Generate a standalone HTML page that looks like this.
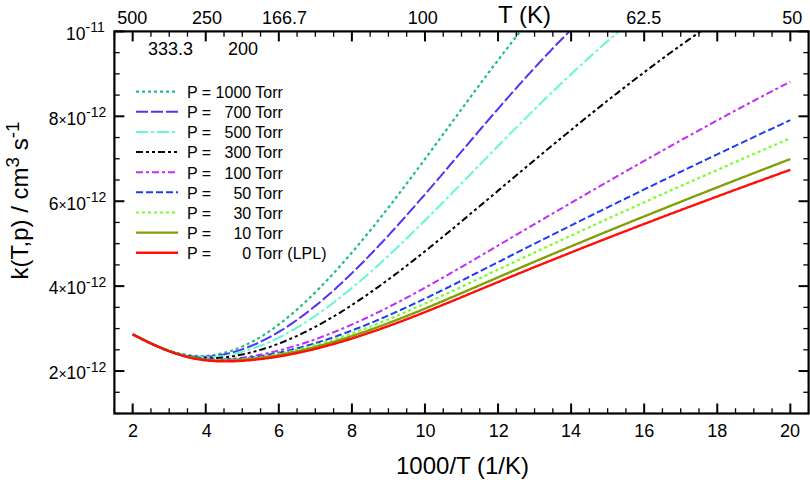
<!DOCTYPE html>
<html><head><meta charset="utf-8"><style>
html,body{margin:0;padding:0;background:#fff;}
svg{display:block;}
text{font-family:"Liberation Sans",sans-serif;fill:#000;}
.tl{font-size:18px;}
.yl{font-size:17.5px;}
.tm{font-size:14px;}
.sup{font-size:14px;}
.lg{font-size:16px;white-space:pre;}
.ax{font-size:24px;}
.sup2{font-size:18.8px;}
</style></head><body>
<svg width="810" height="480" viewBox="0 0 810 480">
<rect width="810" height="480" fill="#fff"/>
<defs><clipPath id="c"><rect x="114.4" y="31.4" width="694.2" height="382.1"/></clipPath></defs>
<g clip-path="url(#c)" fill="none" stroke-linejoin="round">
<path d="M132.7,334.3 L134.2,335.1 L135.7,335.9 L137.2,336.6 L138.7,337.4 L140.2,338.1 L141.7,338.9 L143.2,339.6 L144.7,340.4 L146.2,341.1 L147.7,341.8 L149.2,342.5 L150.7,343.2 L152.2,343.8 L153.7,344.5 L155.2,345.2 L156.7,345.8 L158.2,346.4 L159.7,347.0 L161.2,347.6 L162.7,348.2 L164.2,348.8 L165.7,349.3 L167.2,349.8 L168.7,350.4 L170.2,350.8 L171.7,351.3 L173.2,351.8 L174.7,352.2 L176.2,352.6 L177.7,353.0 L179.2,353.4 L180.7,353.7 L182.2,354.1 L183.7,354.4 L185.2,354.6 L186.7,354.9 L188.2,355.1 L189.7,355.3 L191.2,355.5 L192.7,355.6 L194.2,355.7 L195.7,355.8 L197.2,355.9 L198.7,356.0 L200.2,356.0 L201.7,356.0 L203.2,355.9 L204.7,355.9 L206.2,355.8 L207.7,355.7 L209.2,355.5 L210.7,355.4 L212.2,355.2 L213.7,355.0 L215.2,354.8 L216.7,354.5 L218.2,354.2 L219.7,353.9 L221.2,353.6 L222.7,353.3 L224.2,352.9 L225.7,352.5 L227.2,352.1 L228.7,351.6 L230.2,351.2 L231.7,350.7 L233.2,350.2 L234.7,349.6 L236.2,349.1 L237.7,348.5 L239.2,347.9 L240.7,347.3 L242.2,346.6 L243.7,346.0 L245.2,345.3 L246.7,344.6 L248.2,343.8 L249.7,343.1 L251.2,342.3 L252.7,341.5 L254.2,340.7 L255.7,339.9 L257.2,339.0 L258.7,338.1 L260.2,337.2 L261.7,336.3 L263.2,335.4 L264.7,334.4 L266.2,333.4 L267.7,332.4 L269.2,331.4 L270.7,330.4 L272.2,329.3 L273.7,328.3 L275.2,327.2 L276.7,326.1 L278.2,324.9 L279.7,323.8 L281.2,322.6 L282.7,321.5 L284.2,320.3 L285.7,319.1 L287.2,317.9 L288.7,316.6 L290.2,315.4 L291.7,314.1 L293.2,312.8 L294.7,311.5 L296.2,310.2 L297.7,308.9 L299.2,307.5 L300.7,306.2 L302.2,304.8 L303.7,303.4 L305.2,302.0 L306.7,300.6 L308.2,299.2 L309.7,297.8 L311.2,296.3 L312.7,294.9 L314.2,293.4 L315.7,291.9 L317.2,290.4 L318.7,288.9 L320.2,287.4 L321.7,285.8 L323.2,284.3 L324.7,282.7 L326.2,281.2 L327.7,279.6 L329.2,278.0 L330.7,276.4 L332.2,274.8 L333.7,273.1 L335.2,271.5 L336.7,269.8 L338.2,268.2 L339.7,266.5 L341.2,264.8 L342.7,263.1 L344.2,261.4 L345.7,259.7 L347.2,258.0 L348.7,256.3 L350.2,254.6 L351.7,252.8 L353.2,251.0 L354.7,249.3 L356.2,247.5 L357.7,245.7 L359.2,243.9 L360.7,242.1 L362.2,240.3 L363.7,238.5 L365.2,236.7 L366.7,234.8 L368.2,233.0 L369.7,231.2 L371.2,229.3 L372.7,227.4 L374.2,225.6 L375.7,223.7 L377.2,221.8 L378.7,219.9 L380.2,218.0 L381.7,216.1 L383.2,214.2 L384.7,212.3 L386.2,210.4 L387.7,208.4 L389.2,206.5 L390.7,204.6 L392.2,202.6 L393.7,200.7 L395.2,198.7 L396.7,196.7 L398.2,194.8 L399.7,192.8 L401.2,190.8 L402.7,188.9 L404.2,186.9 L405.7,184.9 L407.2,182.9 L408.7,180.9 L410.2,178.9 L411.7,176.9 L413.2,174.9 L414.7,172.9 L416.2,170.9 L417.7,168.8 L419.2,166.8 L420.7,164.8 L422.2,162.8 L423.7,160.8 L425.2,158.7 L426.7,156.7 L428.2,154.7 L429.7,152.6 L431.2,150.6 L432.7,148.5 L434.2,146.5 L435.7,144.5 L437.2,142.4 L438.7,140.4 L440.2,138.3 L441.7,136.3 L443.2,134.2 L444.7,132.2 L446.2,130.1 L447.7,128.1 L449.2,126.0 L450.7,124.0 L452.2,121.9 L453.7,119.9 L455.2,117.9 L456.7,115.8 L458.2,113.8 L459.7,111.7 L461.2,109.7 L462.7,107.6 L464.2,105.6 L465.7,103.5 L467.2,101.5 L468.7,99.5 L470.2,97.4 L471.7,95.4 L473.2,93.4 L474.7,91.3 L476.2,89.3 L477.7,87.3 L479.2,85.3 L480.7,83.2 L482.2,81.2 L483.7,79.2 L485.2,77.2 L486.7,75.2 L488.2,73.2 L489.7,71.2 L491.2,69.2 L492.7,67.2 L494.2,65.2 L495.7,63.3 L497.2,61.3 L498.7,59.3 L500.2,57.3 L501.7,55.4 L503.2,53.4 L504.7,51.5 L506.2,49.5 L507.7,47.6 L509.2,45.6 L510.7,43.7 L512.2,41.8 L513.7,39.8 L515.2,37.9 L516.7,36.0 L518.2,34.1 L519.7,32.2 L521.2,30.3 L522.7,28.4 L524.2,26.6 L525.7,24.7 L527.2,22.8 L528.7,21.0 L530.2,19.1 L531.7,17.3 L533.2,15.4 L534.7,13.6 L536.0,12.0" stroke="#1cbe84" stroke-width="2.2" stroke-dasharray="3 3"/>
<path d="M132.7,334.2 L134.2,335.0 L135.7,335.9 L137.2,336.7 L138.7,337.5 L140.2,338.3 L141.7,339.1 L143.2,339.8 L144.7,340.6 L146.2,341.4 L147.7,342.1 L149.2,342.8 L150.7,343.5 L152.2,344.2 L153.7,344.9 L155.2,345.6 L156.7,346.3 L158.2,346.9 L159.7,347.5 L161.2,348.1 L162.7,348.7 L164.2,349.3 L165.7,349.9 L167.2,350.4 L168.7,350.9 L170.2,351.4 L171.7,351.9 L173.2,352.4 L174.7,352.8 L176.2,353.2 L177.7,353.6 L179.2,354.0 L180.7,354.4 L182.2,354.7 L183.7,355.0 L185.2,355.3 L186.7,355.5 L188.2,355.8 L189.7,356.0 L191.2,356.2 L192.7,356.3 L194.2,356.5 L195.7,356.6 L197.2,356.7 L198.7,356.7 L200.2,356.8 L201.7,356.8 L203.2,356.8 L204.7,356.8 L206.2,356.7 L207.7,356.6 L209.2,356.5 L210.7,356.4 L212.2,356.3 L213.7,356.1 L215.2,355.9 L216.7,355.7 L218.2,355.5 L219.7,355.3 L221.2,355.0 L222.7,354.7 L224.2,354.4 L225.7,354.1 L227.2,353.8 L228.7,353.4 L230.2,353.0 L231.7,352.6 L233.2,352.2 L234.7,351.8 L236.2,351.3 L237.7,350.9 L239.2,350.4 L240.7,349.9 L242.2,349.4 L243.7,348.8 L245.2,348.3 L246.7,347.7 L248.2,347.1 L249.7,346.5 L251.2,345.9 L252.7,345.3 L254.2,344.6 L255.7,344.0 L257.2,343.3 L258.7,342.6 L260.2,341.9 L261.7,341.2 L263.2,340.4 L264.7,339.7 L266.2,338.9 L267.7,338.1 L269.2,337.3 L270.7,336.5 L272.2,335.7 L273.7,334.8 L275.2,334.0 L276.7,333.1 L278.2,332.2 L279.7,331.3 L281.2,330.4 L282.7,329.5 L284.2,328.5 L285.7,327.6 L287.2,326.6 L288.7,325.6 L290.2,324.6 L291.7,323.6 L293.2,322.6 L294.7,321.5 L296.2,320.5 L297.7,319.4 L299.2,318.3 L300.7,317.2 L302.2,316.1 L303.7,315.0 L305.2,313.9 L306.7,312.7 L308.2,311.6 L309.7,310.4 L311.2,309.2 L312.7,308.0 L314.2,306.8 L315.7,305.6 L317.2,304.4 L318.7,303.2 L320.2,301.9 L321.7,300.7 L323.2,299.4 L324.7,298.1 L326.2,296.8 L327.7,295.5 L329.2,294.2 L330.7,292.9 L332.2,291.6 L333.7,290.2 L335.2,288.9 L336.7,287.5 L338.2,286.1 L339.7,284.8 L341.2,283.4 L342.7,282.0 L344.2,280.6 L345.7,279.1 L347.2,277.7 L348.7,276.3 L350.2,274.8 L351.7,273.4 L353.2,271.9 L354.7,270.4 L356.2,269.0 L357.7,267.5 L359.2,266.0 L360.7,264.5 L362.2,263.0 L363.7,261.5 L365.2,259.9 L366.7,258.4 L368.2,256.9 L369.7,255.3 L371.2,253.8 L372.7,252.2 L374.2,250.6 L375.7,249.0 L377.2,247.5 L378.7,245.9 L380.2,244.3 L381.7,242.7 L383.2,241.1 L384.7,239.5 L386.2,237.8 L387.7,236.2 L389.2,234.6 L390.7,232.9 L392.2,231.3 L393.7,229.7 L395.2,228.0 L396.7,226.3 L398.2,224.7 L399.7,223.0 L401.2,221.3 L402.7,219.7 L404.2,218.0 L405.7,216.3 L407.2,214.6 L408.7,212.9 L410.2,211.2 L411.7,209.5 L413.2,207.8 L414.7,206.1 L416.2,204.4 L417.7,202.7 L419.2,200.9 L420.7,199.2 L422.2,197.5 L423.7,195.8 L425.2,194.0 L426.7,192.3 L428.2,190.6 L429.7,188.8 L431.2,187.1 L432.7,185.3 L434.2,183.6 L435.7,181.8 L437.2,180.1 L438.7,178.3 L440.2,176.6 L441.7,174.8 L443.2,173.1 L444.7,171.3 L446.2,169.5 L447.7,167.8 L449.2,166.0 L450.7,164.2 L452.2,162.5 L453.7,160.7 L455.2,159.0 L456.7,157.2 L458.2,155.4 L459.7,153.7 L461.2,151.9 L462.7,150.1 L464.2,148.4 L465.7,146.6 L467.2,144.8 L468.7,143.1 L470.2,141.3 L471.7,139.5 L473.2,137.8 L474.7,136.0 L476.2,134.3 L477.7,132.5 L479.2,130.7 L480.7,129.0 L482.2,127.2 L483.7,125.5 L485.2,123.7 L486.7,122.0 L488.2,120.2 L489.7,118.5 L491.2,116.7 L492.7,115.0 L494.2,113.3 L495.7,111.5 L497.2,109.8 L498.7,108.1 L500.2,106.4 L501.7,104.6 L503.2,102.9 L504.7,101.2 L506.2,99.5 L507.7,97.8 L509.2,96.1 L510.7,94.4 L512.2,92.7 L513.7,91.0 L515.2,89.3 L516.7,87.6 L518.2,85.9 L519.7,84.2 L521.2,82.6 L522.7,80.9 L524.2,79.2 L525.7,77.6 L527.2,75.9 L528.7,74.3 L530.2,72.6 L531.7,71.0 L533.2,69.3 L534.7,67.7 L536.2,66.1 L537.7,64.5 L539.2,62.8 L540.7,61.2 L542.2,59.6 L543.7,58.0 L545.2,56.4 L546.7,54.8 L548.2,53.2 L549.7,51.7 L551.2,50.1 L552.7,48.5 L554.2,46.9 L555.7,45.4 L557.2,43.8 L558.7,42.3 L560.2,40.7 L561.7,39.2 L563.2,37.7 L564.7,36.2 L566.2,34.6 L567.7,33.1 L569.2,31.6 L570.7,30.1 L572.2,28.7 L573.7,27.2 L575.2,25.7 L576.7,24.2 L578.2,22.8 L579.7,21.3 L581.2,19.9 L582.7,18.4 L584.2,17.0 L585.7,15.6 L586.0,15.3" stroke="#5232f8" stroke-width="2.0" stroke-dasharray="12 3"/>
<path d="M132.7,334.3 L134.2,335.1 L135.7,335.9 L137.2,336.7 L138.7,337.4 L140.2,338.2 L141.7,339.0 L143.2,339.7 L144.7,340.5 L146.2,341.2 L147.7,341.9 L149.2,342.6 L150.7,343.3 L152.2,344.0 L153.7,344.7 L155.2,345.4 L156.7,346.0 L158.2,346.7 L159.7,347.3 L161.2,347.9 L162.7,348.5 L164.2,349.1 L165.7,349.6 L167.2,350.2 L168.7,350.7 L170.2,351.2 L171.7,351.7 L173.2,352.2 L174.7,352.6 L176.2,353.0 L177.7,353.5 L179.2,353.9 L180.7,354.2 L182.2,354.6 L183.7,354.9 L185.2,355.2 L186.7,355.5 L188.2,355.8 L189.7,356.0 L191.2,356.2 L192.7,356.4 L194.2,356.6 L195.7,356.8 L197.2,356.9 L198.7,357.0 L200.2,357.1 L201.7,357.2 L203.2,357.2 L204.7,357.2 L206.2,357.2 L207.7,357.2 L209.2,357.2 L210.7,357.1 L212.2,357.0 L213.7,356.9 L215.2,356.8 L216.7,356.7 L218.2,356.5 L219.7,356.3 L221.2,356.2 L222.7,356.0 L224.2,355.7 L225.7,355.5 L227.2,355.2 L228.7,355.0 L230.2,354.7 L231.7,354.4 L233.2,354.0 L234.7,353.7 L236.2,353.3 L237.7,353.0 L239.2,352.6 L240.7,352.2 L242.2,351.8 L243.7,351.4 L245.2,350.9 L246.7,350.5 L248.2,350.0 L249.7,349.5 L251.2,349.0 L252.7,348.5 L254.2,348.0 L255.7,347.5 L257.2,346.9 L258.7,346.4 L260.2,345.8 L261.7,345.2 L263.2,344.6 L264.7,344.0 L266.2,343.4 L267.7,342.7 L269.2,342.1 L270.7,341.4 L272.2,340.7 L273.7,340.1 L275.2,339.3 L276.7,338.6 L278.2,337.9 L279.7,337.1 L281.2,336.4 L282.7,335.6 L284.2,334.8 L285.7,334.0 L287.2,333.2 L288.7,332.4 L290.2,331.6 L291.7,330.7 L293.2,329.8 L294.7,329.0 L296.2,328.1 L297.7,327.2 L299.2,326.3 L300.7,325.4 L302.2,324.4 L303.7,323.5 L305.2,322.5 L306.7,321.6 L308.2,320.6 L309.7,319.6 L311.2,318.6 L312.7,317.6 L314.2,316.6 L315.7,315.6 L317.2,314.5 L318.7,313.5 L320.2,312.4 L321.7,311.3 L323.2,310.3 L324.7,309.2 L326.2,308.1 L327.7,307.0 L329.2,305.9 L330.7,304.7 L332.2,303.6 L333.7,302.5 L335.2,301.3 L336.7,300.2 L338.2,299.0 L339.7,297.8 L341.2,296.6 L342.7,295.4 L344.2,294.2 L345.7,293.0 L347.2,291.8 L348.7,290.6 L350.2,289.4 L351.7,288.1 L353.2,286.9 L354.7,285.6 L356.2,284.4 L357.7,283.1 L359.2,281.8 L360.7,280.5 L362.2,279.3 L363.7,278.0 L365.2,276.7 L366.7,275.3 L368.2,274.0 L369.7,272.7 L371.2,271.4 L372.7,270.1 L374.2,268.7 L375.7,267.4 L377.2,266.0 L378.7,264.7 L380.2,263.3 L381.7,261.9 L383.2,260.6 L384.7,259.2 L386.2,257.8 L387.7,256.4 L389.2,255.0 L390.7,253.6 L392.2,252.2 L393.7,250.8 L395.2,249.4 L396.7,248.0 L398.2,246.5 L399.7,245.1 L401.2,243.7 L402.7,242.2 L404.2,240.8 L405.7,239.4 L407.2,237.9 L408.7,236.5 L410.2,235.0 L411.7,233.5 L413.2,232.1 L414.7,230.6 L416.2,229.1 L417.7,227.6 L419.2,226.2 L420.7,224.7 L422.2,223.2 L423.7,221.7 L425.2,220.2 L426.7,218.7 L428.2,217.2 L429.7,215.7 L431.2,214.2 L432.7,212.7 L434.2,211.2 L435.7,209.7 L437.2,208.2 L438.7,206.7 L440.2,205.2 L441.7,203.6 L443.2,202.1 L444.7,200.6 L446.2,199.1 L447.7,197.5 L449.2,196.0 L450.7,194.5 L452.2,193.0 L453.7,191.4 L455.2,189.9 L456.7,188.4 L458.2,186.8 L459.7,185.3 L461.2,183.7 L462.7,182.2 L464.2,180.7 L465.7,179.1 L467.2,177.6 L468.7,176.1 L470.2,174.5 L471.7,173.0 L473.2,171.4 L474.7,169.9 L476.2,168.3 L477.7,166.8 L479.2,165.3 L480.7,163.7 L482.2,162.2 L483.7,160.6 L485.2,159.1 L486.7,157.6 L488.2,156.0 L489.7,154.5 L491.2,153.0 L492.7,151.4 L494.2,149.9 L495.7,148.4 L497.2,146.8 L498.7,145.3 L500.2,143.8 L501.7,142.2 L503.2,140.7 L504.7,139.2 L506.2,137.7 L507.7,136.2 L509.2,134.6 L510.7,133.1 L512.2,131.6 L513.7,130.1 L515.2,128.6 L516.7,127.1 L518.2,125.6 L519.7,124.1 L521.2,122.6 L522.7,121.1 L524.2,119.6 L525.7,118.1 L527.2,116.6 L528.7,115.1 L530.2,113.6 L531.7,112.1 L533.2,110.6 L534.7,109.1 L536.2,107.7 L537.7,106.2 L539.2,104.7 L540.7,103.2 L542.2,101.8 L543.7,100.3 L545.2,98.8 L546.7,97.4 L548.2,95.9 L549.7,94.5 L551.2,93.0 L552.7,91.6 L554.2,90.1 L555.7,88.7 L557.2,87.3 L558.7,85.8 L560.2,84.4 L561.7,83.0 L563.2,81.6 L564.7,80.1 L566.2,78.7 L567.7,77.3 L569.2,75.9 L570.7,74.5 L572.2,73.1 L573.7,71.7 L575.2,70.3 L576.7,68.9 L578.2,67.5 L579.7,66.1 L581.2,64.8 L582.7,63.4 L584.2,62.0 L585.7,60.7 L587.2,59.3 L588.7,57.9 L590.2,56.6 L591.7,55.2 L593.2,53.9 L594.7,52.5 L596.2,51.2 L597.7,49.9 L599.2,48.6 L600.7,47.2 L602.2,45.9 L603.7,44.6 L605.2,43.3 L606.7,42.0 L608.2,40.7 L609.7,39.4 L611.2,38.1 L612.7,36.8 L614.2,35.6 L615.7,34.3 L617.2,33.0 L618.7,31.8 L620.2,30.5 L621.7,29.2 L623.2,28.0 L624.7,26.8 L626.2,25.5 L627.7,24.3 L629.2,23.1 L630.7,21.8 L632.2,20.6 L633.7,19.4 L635.2,18.2 L636.0,17.6" stroke="#62f8d6" stroke-width="2.0" stroke-dasharray="12 3 3 3"/>
<path d="M132.7,334.3 L134.2,335.1 L135.7,335.9 L137.2,336.7 L138.7,337.4 L140.2,338.2 L141.7,339.0 L143.2,339.8 L144.7,340.5 L146.2,341.3 L147.7,342.0 L149.2,342.7 L150.7,343.4 L152.2,344.1 L153.7,344.8 L155.2,345.5 L156.7,346.1 L158.2,346.8 L159.7,347.4 L161.2,348.0 L162.7,348.6 L164.2,349.2 L165.7,349.8 L167.2,350.4 L168.7,350.9 L170.2,351.4 L171.7,351.9 L173.2,352.4 L174.7,352.9 L176.2,353.4 L177.7,353.8 L179.2,354.2 L180.7,354.6 L182.2,355.0 L183.7,355.3 L185.2,355.7 L186.7,356.0 L188.2,356.3 L189.7,356.6 L191.2,356.8 L192.7,357.1 L194.2,357.3 L195.7,357.5 L197.2,357.6 L198.7,357.8 L200.2,357.9 L201.7,358.0 L203.2,358.1 L204.7,358.2 L206.2,358.2 L207.7,358.2 L209.2,358.2 L210.7,358.2 L212.2,358.2 L213.7,358.2 L215.2,358.1 L216.7,358.0 L218.2,358.0 L219.7,357.8 L221.2,357.7 L222.7,357.6 L224.2,357.4 L225.7,357.3 L227.2,357.1 L228.7,356.9 L230.2,356.7 L231.7,356.4 L233.2,356.2 L234.7,356.0 L236.2,355.7 L237.7,355.4 L239.2,355.1 L240.7,354.8 L242.2,354.5 L243.7,354.2 L245.2,353.9 L246.7,353.5 L248.2,353.2 L249.7,352.8 L251.2,352.4 L252.7,352.0 L254.2,351.6 L255.7,351.2 L257.2,350.8 L258.7,350.4 L260.2,349.9 L261.7,349.5 L263.2,349.0 L264.7,348.5 L266.2,348.1 L267.7,347.6 L269.2,347.1 L270.7,346.6 L272.2,346.0 L273.7,345.5 L275.2,344.9 L276.7,344.4 L278.2,343.8 L279.7,343.3 L281.2,342.7 L282.7,342.1 L284.2,341.5 L285.7,340.8 L287.2,340.2 L288.7,339.6 L290.2,338.9 L291.7,338.3 L293.2,337.6 L294.7,337.0 L296.2,336.3 L297.7,335.6 L299.2,334.9 L300.7,334.2 L302.2,333.4 L303.7,332.7 L305.2,332.0 L306.7,331.2 L308.2,330.5 L309.7,329.7 L311.2,328.9 L312.7,328.2 L314.2,327.4 L315.7,326.6 L317.2,325.8 L318.7,325.0 L320.2,324.1 L321.7,323.3 L323.2,322.5 L324.7,321.6 L326.2,320.8 L327.7,319.9 L329.2,319.0 L330.7,318.2 L332.2,317.3 L333.7,316.4 L335.2,315.5 L336.7,314.6 L338.2,313.7 L339.7,312.8 L341.2,311.8 L342.7,310.9 L344.2,310.0 L345.7,309.0 L347.2,308.1 L348.7,307.1 L350.2,306.1 L351.7,305.1 L353.2,304.2 L354.7,303.2 L356.2,302.2 L357.7,301.2 L359.2,300.2 L360.7,299.2 L362.2,298.2 L363.7,297.1 L365.2,296.1 L366.7,295.1 L368.2,294.0 L369.7,293.0 L371.2,291.9 L372.7,290.9 L374.2,289.8 L375.7,288.7 L377.2,287.7 L378.7,286.6 L380.2,285.5 L381.7,284.4 L383.2,283.3 L384.7,282.2 L386.2,281.1 L387.7,280.0 L389.2,278.9 L390.7,277.8 L392.2,276.7 L393.7,275.6 L395.2,274.4 L396.7,273.3 L398.2,272.2 L399.7,271.0 L401.2,269.9 L402.7,268.7 L404.2,267.6 L405.7,266.4 L407.2,265.3 L408.7,264.1 L410.2,262.9 L411.7,261.8 L413.2,260.6 L414.7,259.4 L416.2,258.2 L417.7,257.1 L419.2,255.9 L420.7,254.7 L422.2,253.5 L423.7,252.3 L425.2,251.1 L426.7,249.9 L428.2,248.7 L429.7,247.5 L431.2,246.3 L432.7,245.1 L434.2,243.8 L435.7,242.6 L437.2,241.4 L438.7,240.2 L440.2,239.0 L441.7,237.7 L443.2,236.5 L444.7,235.3 L446.2,234.0 L447.7,232.8 L449.2,231.6 L450.7,230.3 L452.2,229.1 L453.7,227.9 L455.2,226.6 L456.7,225.4 L458.2,224.1 L459.7,222.9 L461.2,221.6 L462.7,220.4 L464.2,219.1 L465.7,217.9 L467.2,216.6 L468.7,215.4 L470.2,214.1 L471.7,212.8 L473.2,211.6 L474.7,210.3 L476.2,209.1 L477.7,207.8 L479.2,206.6 L480.7,205.3 L482.2,204.0 L483.7,202.8 L485.2,201.5 L486.7,200.2 L488.2,199.0 L489.7,197.7 L491.2,196.5 L492.7,195.2 L494.2,193.9 L495.7,192.7 L497.2,191.4 L498.7,190.1 L500.2,188.9 L501.7,187.6 L503.2,186.4 L504.7,185.1 L506.2,183.8 L507.7,182.6 L509.2,181.3 L510.7,180.0 L512.2,178.8 L513.7,177.5 L515.2,176.3 L516.7,175.0 L518.2,173.8 L519.7,172.5 L521.2,171.2 L522.7,170.0 L524.2,168.7 L525.7,167.5 L527.2,166.2 L528.7,165.0 L530.2,163.7 L531.7,162.5 L533.2,161.2 L534.7,160.0 L536.2,158.7 L537.7,157.5 L539.2,156.2 L540.7,155.0 L542.2,153.7 L543.7,152.5 L545.2,151.3 L546.7,150.0 L548.2,148.8 L549.7,147.5 L551.2,146.3 L552.7,145.1 L554.2,143.8 L555.7,142.6 L557.2,141.3 L558.7,140.1 L560.2,138.9 L561.7,137.6 L563.2,136.4 L564.7,135.2 L566.2,134.0 L567.7,132.7 L569.2,131.5 L570.7,130.3 L572.2,129.1 L573.7,127.8 L575.2,126.6 L576.7,125.4 L578.2,124.2 L579.7,123.0 L581.2,121.7 L582.7,120.5 L584.2,119.3 L585.7,118.1 L587.2,116.9 L588.7,115.7 L590.2,114.5 L591.7,113.3 L593.2,112.1 L594.7,110.9 L596.2,109.7 L597.7,108.5 L599.2,107.3 L600.7,106.1 L602.2,104.9 L603.7,103.7 L605.2,102.5 L606.7,101.3 L608.2,100.1 L609.7,99.0 L611.2,97.8 L612.7,96.6 L614.2,95.4 L615.7,94.2 L617.2,93.1 L618.7,91.9 L620.2,90.7 L621.7,89.6 L623.2,88.4 L624.7,87.2 L626.2,86.1 L627.7,84.9 L629.2,83.7 L630.7,82.6 L632.2,81.4 L633.7,80.3 L635.2,79.1 L636.7,78.0 L638.2,76.8 L639.7,75.7 L641.2,74.6 L642.7,73.4 L644.2,72.3 L645.7,71.1 L647.2,70.0 L648.7,68.9 L650.2,67.8 L651.7,66.6 L653.2,65.5 L654.7,64.4 L656.2,63.3 L657.7,62.2 L659.2,61.0 L660.7,59.9 L662.2,58.8 L663.7,57.7 L665.2,56.6 L666.7,55.5 L668.2,54.4 L669.7,53.3 L671.2,52.2 L672.7,51.1 L674.2,50.1 L675.7,49.0 L677.2,47.9 L678.7,46.8 L680.2,45.7 L681.7,44.7 L683.2,43.6 L684.7,42.5 L686.2,41.5 L687.7,40.4 L689.2,39.3 L690.7,38.3 L692.2,37.2 L693.7,36.2 L695.2,35.1 L696.7,34.1 L698.2,33.1 L699.7,32.0 L701.2,31.0 L702.7,30.0 L704.2,28.9 L705.7,27.9 L707.2,26.9 L708.7,25.9 L710.2,24.8 L711.7,23.8 L713.2,22.8 L714.7,21.8 L716.0,20.9" stroke="#000000" stroke-width="2.0" stroke-dasharray="7 3 3 3 3 3"/>
<path d="M132.7,334.3 L134.2,335.1 L135.7,335.9 L137.2,336.7 L138.7,337.4 L140.2,338.2 L141.7,339.0 L143.2,339.7 L144.7,340.5 L146.2,341.2 L147.7,342.0 L149.2,342.7 L150.7,343.4 L152.2,344.1 L153.7,344.8 L155.2,345.5 L156.7,346.1 L158.2,346.8 L159.7,347.4 L161.2,348.1 L162.7,348.7 L164.2,349.3 L165.7,349.9 L167.2,350.4 L168.7,351.0 L170.2,351.5 L171.7,352.1 L173.2,352.6 L174.7,353.1 L176.2,353.6 L177.7,354.0 L179.2,354.5 L180.7,354.9 L182.2,355.3 L183.7,355.7 L185.2,356.1 L186.7,356.4 L188.2,356.8 L189.7,357.1 L191.2,357.4 L192.7,357.6 L194.2,357.9 L195.7,358.1 L197.2,358.3 L198.7,358.5 L200.2,358.7 L201.7,358.9 L203.2,359.0 L204.7,359.1 L206.2,359.2 L207.7,359.3 L209.2,359.4 L210.7,359.5 L212.2,359.5 L213.7,359.5 L215.2,359.6 L216.7,359.6 L218.2,359.5 L219.7,359.5 L221.2,359.5 L222.7,359.4 L224.2,359.4 L225.7,359.3 L227.2,359.2 L228.7,359.1 L230.2,359.0 L231.7,358.8 L233.2,358.7 L234.7,358.5 L236.2,358.4 L237.7,358.2 L239.2,358.0 L240.7,357.9 L242.2,357.7 L243.7,357.5 L245.2,357.2 L246.7,357.0 L248.2,356.8 L249.7,356.6 L251.2,356.3 L252.7,356.1 L254.2,355.8 L255.7,355.5 L257.2,355.3 L258.7,355.0 L260.2,354.7 L261.7,354.4 L263.2,354.1 L264.7,353.8 L266.2,353.5 L267.7,353.1 L269.2,352.8 L270.7,352.5 L272.2,352.1 L273.7,351.7 L275.2,351.4 L276.7,351.0 L278.2,350.6 L279.7,350.3 L281.2,349.9 L282.7,349.5 L284.2,349.1 L285.7,348.7 L287.2,348.2 L288.7,347.8 L290.2,347.4 L291.7,346.9 L293.2,346.5 L294.7,346.1 L296.2,345.6 L297.7,345.1 L299.2,344.7 L300.7,344.2 L302.2,343.7 L303.7,343.2 L305.2,342.7 L306.7,342.2 L308.2,341.7 L309.7,341.2 L311.2,340.7 L312.7,340.2 L314.2,339.6 L315.7,339.1 L317.2,338.6 L318.7,338.0 L320.2,337.5 L321.7,336.9 L323.2,336.3 L324.7,335.8 L326.2,335.2 L327.7,334.6 L329.2,334.0 L330.7,333.4 L332.2,332.8 L333.7,332.2 L335.2,331.6 L336.7,331.0 L338.2,330.4 L339.7,329.8 L341.2,329.2 L342.7,328.5 L344.2,327.9 L345.7,327.2 L347.2,326.6 L348.7,325.9 L350.2,325.3 L351.7,324.6 L353.2,324.0 L354.7,323.3 L356.2,322.6 L357.7,321.9 L359.2,321.3 L360.7,320.6 L362.2,319.9 L363.7,319.2 L365.2,318.5 L366.7,317.8 L368.2,317.1 L369.7,316.4 L371.2,315.6 L372.7,314.9 L374.2,314.2 L375.7,313.5 L377.2,312.7 L378.7,312.0 L380.2,311.3 L381.7,310.5 L383.2,309.8 L384.7,309.0 L386.2,308.3 L387.7,307.5 L389.2,306.8 L390.7,306.0 L392.2,305.2 L393.7,304.5 L395.2,303.7 L396.7,302.9 L398.2,302.1 L399.7,301.3 L401.2,300.6 L402.7,299.8 L404.2,299.0 L405.7,298.2 L407.2,297.4 L408.7,296.6 L410.2,295.8 L411.7,295.0 L413.2,294.2 L414.7,293.3 L416.2,292.5 L417.7,291.7 L419.2,290.9 L420.7,290.1 L422.2,289.3 L423.7,288.4 L425.2,287.6 L426.7,286.8 L428.2,285.9 L429.7,285.1 L431.2,284.3 L432.7,283.4 L434.2,282.6 L435.7,281.7 L437.2,280.9 L438.7,280.0 L440.2,279.2 L441.7,278.3 L443.2,277.5 L444.7,276.6 L446.2,275.8 L447.7,274.9 L449.2,274.1 L450.7,273.2 L452.2,272.3 L453.7,271.5 L455.2,270.6 L456.7,269.7 L458.2,268.9 L459.7,268.0 L461.2,267.1 L462.7,266.3 L464.2,265.4 L465.7,264.5 L467.2,263.7 L468.7,262.8 L470.2,261.9 L471.7,261.0 L473.2,260.1 L474.7,259.3 L476.2,258.4 L477.7,257.5 L479.2,256.6 L480.7,255.8 L482.2,254.9 L483.7,254.0 L485.2,253.1 L486.7,252.2 L488.2,251.3 L489.7,250.5 L491.2,249.6 L492.7,248.7 L494.2,247.8 L495.7,246.9 L497.2,246.1 L498.7,245.2 L500.2,244.3 L501.7,243.4 L503.2,242.5 L504.7,241.6 L506.2,240.8 L507.7,239.9 L509.2,239.0 L510.7,238.1 L512.2,237.2 L513.7,236.3 L515.2,235.5 L516.7,234.6 L518.2,233.7 L519.7,232.8 L521.2,231.9 L522.7,231.1 L524.2,230.2 L525.7,229.3 L527.2,228.4 L528.7,227.5 L530.2,226.7 L531.7,225.8 L533.2,224.9 L534.7,224.0 L536.2,223.2 L537.7,222.3 L539.2,221.4 L540.7,220.5 L542.2,219.6 L543.7,218.8 L545.2,217.9 L546.7,217.0 L548.2,216.1 L549.7,215.3 L551.2,214.4 L552.7,213.5 L554.2,212.6 L555.7,211.8 L557.2,210.9 L558.7,210.0 L560.2,209.1 L561.7,208.3 L563.2,207.4 L564.7,206.5 L566.2,205.7 L567.7,204.8 L569.2,203.9 L570.7,203.0 L572.2,202.2 L573.7,201.3 L575.2,200.4 L576.7,199.6 L578.2,198.7 L579.7,197.8 L581.2,197.0 L582.7,196.1 L584.2,195.2 L585.7,194.3 L587.2,193.5 L588.7,192.6 L590.2,191.7 L591.7,190.9 L593.2,190.0 L594.7,189.2 L596.2,188.3 L597.7,187.4 L599.2,186.6 L600.7,185.7 L602.2,184.8 L603.7,184.0 L605.2,183.1 L606.7,182.2 L608.2,181.4 L609.7,180.5 L611.2,179.7 L612.7,178.8 L614.2,178.0 L615.7,177.1 L617.2,176.2 L618.7,175.4 L620.2,174.5 L621.7,173.7 L623.2,172.8 L624.7,172.0 L626.2,171.1 L627.7,170.2 L629.2,169.4 L630.7,168.5 L632.2,167.7 L633.7,166.8 L635.2,166.0 L636.7,165.1 L638.2,164.3 L639.7,163.4 L641.2,162.6 L642.7,161.7 L644.2,160.9 L645.7,160.0 L647.2,159.2 L648.7,158.3 L650.2,157.5 L651.7,156.6 L653.2,155.8 L654.7,155.0 L656.2,154.1 L657.7,153.3 L659.2,152.4 L660.7,151.6 L662.2,150.7 L663.7,149.9 L665.2,149.1 L666.7,148.2 L668.2,147.4 L669.7,146.6 L671.2,145.7 L672.7,144.9 L674.2,144.0 L675.7,143.2 L677.2,142.4 L678.7,141.5 L680.2,140.7 L681.7,139.9 L683.2,139.0 L684.7,138.2 L686.2,137.4 L687.7,136.6 L689.2,135.7 L690.7,134.9 L692.2,134.1 L693.7,133.2 L695.2,132.4 L696.7,131.6 L698.2,130.8 L699.7,129.9 L701.2,129.1 L702.7,128.3 L704.2,127.5 L705.7,126.7 L707.2,125.8 L708.7,125.0 L710.2,124.2 L711.7,123.4 L713.2,122.6 L714.7,121.7 L716.2,120.9 L717.7,120.1 L719.2,119.3 L720.7,118.5 L722.2,117.7 L723.7,116.9 L725.2,116.1 L726.7,115.2 L728.2,114.4 L729.7,113.6 L731.2,112.8 L732.7,112.0 L734.2,111.2 L735.7,110.4 L737.2,109.6 L738.7,108.8 L740.2,108.0 L741.7,107.2 L743.2,106.4 L744.7,105.6 L746.2,104.8 L747.7,104.0 L749.2,103.2 L750.7,102.4 L752.2,101.6 L753.7,100.8 L755.2,100.0 L756.7,99.2 L758.2,98.4 L759.7,97.7 L761.2,96.9 L762.7,96.1 L764.2,95.3 L765.7,94.5 L767.2,93.7 L768.7,92.9 L770.2,92.2 L771.7,91.4 L773.2,90.6 L774.7,89.8 L776.2,89.0 L777.7,88.3 L779.2,87.5 L780.7,86.7 L782.2,85.9 L783.7,85.1 L785.2,84.4 L786.7,83.6 L788.2,82.8 L789.7,82.1 L790.3,81.7" stroke="#c02cf8" stroke-width="2.0" stroke-dasharray="7 3 3 3"/>
<path d="M132.7,334.3 L134.2,335.1 L135.7,335.9 L137.2,336.6 L138.7,337.4 L140.2,338.2 L141.7,338.9 L143.2,339.6 L144.7,340.4 L146.2,341.1 L147.7,341.8 L149.2,342.5 L150.7,343.2 L152.2,343.9 L153.7,344.6 L155.2,345.3 L156.7,345.9 L158.2,346.6 L159.7,347.2 L161.2,347.9 L162.7,348.5 L164.2,349.1 L165.7,349.7 L167.2,350.2 L168.7,350.8 L170.2,351.3 L171.7,351.9 L173.2,352.4 L174.7,352.9 L176.2,353.4 L177.7,353.8 L179.2,354.3 L180.7,354.7 L182.2,355.1 L183.7,355.5 L185.2,355.9 L186.7,356.3 L188.2,356.6 L189.7,357.0 L191.2,357.3 L192.7,357.6 L194.2,357.8 L195.7,358.1 L197.2,358.3 L198.7,358.5 L200.2,358.7 L201.7,358.9 L203.2,359.1 L204.7,359.2 L206.2,359.3 L207.7,359.5 L209.2,359.6 L210.7,359.7 L212.2,359.7 L213.7,359.8 L215.2,359.8 L216.7,359.9 L218.2,359.9 L219.7,359.9 L221.2,359.9 L222.7,359.8 L224.2,359.8 L225.7,359.8 L227.2,359.7 L228.7,359.6 L230.2,359.6 L231.7,359.5 L233.2,359.4 L234.7,359.3 L236.2,359.1 L237.7,359.0 L239.2,358.9 L240.7,358.7 L242.2,358.6 L243.7,358.4 L245.2,358.2 L246.7,358.1 L248.2,357.9 L249.7,357.7 L251.2,357.5 L252.7,357.3 L254.2,357.1 L255.7,356.9 L257.2,356.7 L258.7,356.4 L260.2,356.2 L261.7,355.9 L263.2,355.7 L264.7,355.4 L266.2,355.2 L267.7,354.9 L269.2,354.6 L270.7,354.3 L272.2,354.0 L273.7,353.7 L275.2,353.4 L276.7,353.1 L278.2,352.8 L279.7,352.5 L281.2,352.2 L282.7,351.8 L284.2,351.5 L285.7,351.1 L287.2,350.8 L288.7,350.4 L290.2,350.1 L291.7,349.7 L293.2,349.3 L294.7,348.9 L296.2,348.6 L297.7,348.2 L299.2,347.8 L300.7,347.4 L302.2,346.9 L303.7,346.5 L305.2,346.1 L306.7,345.7 L308.2,345.3 L309.7,344.8 L311.2,344.4 L312.7,343.9 L314.2,343.5 L315.7,343.0 L317.2,342.5 L318.7,342.1 L320.2,341.6 L321.7,341.1 L323.2,340.6 L324.7,340.2 L326.2,339.7 L327.7,339.2 L329.2,338.7 L330.7,338.2 L332.2,337.6 L333.7,337.1 L335.2,336.6 L336.7,336.1 L338.2,335.5 L339.7,335.0 L341.2,334.5 L342.7,333.9 L344.2,333.4 L345.7,332.8 L347.2,332.3 L348.7,331.7 L350.2,331.1 L351.7,330.6 L353.2,330.0 L354.7,329.4 L356.2,328.8 L357.7,328.2 L359.2,327.7 L360.7,327.1 L362.2,326.5 L363.7,325.9 L365.2,325.3 L366.7,324.6 L368.2,324.0 L369.7,323.4 L371.2,322.8 L372.7,322.2 L374.2,321.6 L375.7,320.9 L377.2,320.3 L378.7,319.7 L380.2,319.0 L381.7,318.4 L383.2,317.7 L384.7,317.1 L386.2,316.4 L387.7,315.8 L389.2,315.1 L390.7,314.4 L392.2,313.8 L393.7,313.1 L395.2,312.4 L396.7,311.8 L398.2,311.1 L399.7,310.4 L401.2,309.7 L402.7,309.0 L404.2,308.4 L405.7,307.7 L407.2,307.0 L408.7,306.3 L410.2,305.6 L411.7,304.9 L413.2,304.2 L414.7,303.5 L416.2,302.8 L417.7,302.1 L419.2,301.4 L420.7,300.6 L422.2,299.9 L423.7,299.2 L425.2,298.5 L426.7,297.8 L428.2,297.1 L429.7,296.3 L431.2,295.6 L432.7,294.9 L434.2,294.2 L435.7,293.4 L437.2,292.7 L438.7,292.0 L440.2,291.2 L441.7,290.5 L443.2,289.7 L444.7,289.0 L446.2,288.3 L447.7,287.5 L449.2,286.8 L450.7,286.0 L452.2,285.3 L453.7,284.5 L455.2,283.8 L456.7,283.0 L458.2,282.3 L459.7,281.5 L461.2,280.8 L462.7,280.0 L464.2,279.3 L465.7,278.5 L467.2,277.8 L468.7,277.0 L470.2,276.3 L471.7,275.5 L473.2,274.7 L474.7,274.0 L476.2,273.2 L477.7,272.5 L479.2,271.7 L480.7,270.9 L482.2,270.2 L483.7,269.4 L485.2,268.7 L486.7,267.9 L488.2,267.1 L489.7,266.4 L491.2,265.6 L492.7,264.9 L494.2,264.1 L495.7,263.3 L497.2,262.6 L498.7,261.8 L500.2,261.1 L501.7,260.3 L503.2,259.5 L504.7,258.8 L506.2,258.0 L507.7,257.3 L509.2,256.5 L510.7,255.7 L512.2,255.0 L513.7,254.2 L515.2,253.5 L516.7,252.7 L518.2,251.9 L519.7,251.2 L521.2,250.4 L522.7,249.7 L524.2,248.9 L525.7,248.2 L527.2,247.4 L528.7,246.7 L530.2,245.9 L531.7,245.1 L533.2,244.4 L534.7,243.6 L536.2,242.9 L537.7,242.1 L539.2,241.4 L540.7,240.6 L542.2,239.9 L543.7,239.1 L545.2,238.4 L546.7,237.6 L548.2,236.9 L549.7,236.1 L551.2,235.4 L552.7,234.6 L554.2,233.9 L555.7,233.1 L557.2,232.4 L558.7,231.6 L560.2,230.9 L561.7,230.1 L563.2,229.4 L564.7,228.6 L566.2,227.9 L567.7,227.1 L569.2,226.4 L570.7,225.6 L572.2,224.9 L573.7,224.1 L575.2,223.4 L576.7,222.7 L578.2,221.9 L579.7,221.2 L581.2,220.4 L582.7,219.7 L584.2,218.9 L585.7,218.2 L587.2,217.4 L588.7,216.7 L590.2,216.0 L591.7,215.2 L593.2,214.5 L594.7,213.7 L596.2,213.0 L597.7,212.2 L599.2,211.5 L600.7,210.8 L602.2,210.0 L603.7,209.3 L605.2,208.5 L606.7,207.8 L608.2,207.1 L609.7,206.3 L611.2,205.6 L612.7,204.9 L614.2,204.1 L615.7,203.4 L617.2,202.6 L618.7,201.9 L620.2,201.2 L621.7,200.4 L623.2,199.7 L624.7,199.0 L626.2,198.2 L627.7,197.5 L629.2,196.8 L630.7,196.0 L632.2,195.3 L633.7,194.6 L635.2,193.8 L636.7,193.1 L638.2,192.4 L639.7,191.6 L641.2,190.9 L642.7,190.2 L644.2,189.4 L645.7,188.7 L647.2,188.0 L648.7,187.3 L650.2,186.5 L651.7,185.8 L653.2,185.1 L654.7,184.3 L656.2,183.6 L657.7,182.9 L659.2,182.2 L660.7,181.4 L662.2,180.7 L663.7,180.0 L665.2,179.3 L666.7,178.5 L668.2,177.8 L669.7,177.1 L671.2,176.4 L672.7,175.6 L674.2,174.9 L675.7,174.2 L677.2,173.5 L678.7,172.7 L680.2,172.0 L681.7,171.3 L683.2,170.6 L684.7,169.9 L686.2,169.1 L687.7,168.4 L689.2,167.7 L690.7,167.0 L692.2,166.3 L693.7,165.5 L695.2,164.8 L696.7,164.1 L698.2,163.4 L699.7,162.7 L701.2,162.0 L702.7,161.2 L704.2,160.5 L705.7,159.8 L707.2,159.1 L708.7,158.4 L710.2,157.7 L711.7,157.0 L713.2,156.2 L714.7,155.5 L716.2,154.8 L717.7,154.1 L719.2,153.4 L720.7,152.7 L722.2,152.0 L723.7,151.3 L725.2,150.6 L726.7,149.8 L728.2,149.1 L729.7,148.4 L731.2,147.7 L732.7,147.0 L734.2,146.3 L735.7,145.6 L737.2,144.9 L738.7,144.2 L740.2,143.5 L741.7,142.8 L743.2,142.1 L744.7,141.4 L746.2,140.7 L747.7,140.0 L749.2,139.3 L750.7,138.6 L752.2,137.9 L753.7,137.1 L755.2,136.4 L756.7,135.7 L758.2,135.0 L759.7,134.3 L761.2,133.6 L762.7,132.9 L764.2,132.2 L765.7,131.5 L767.2,130.8 L768.7,130.2 L770.2,129.5 L771.7,128.8 L773.2,128.1 L774.7,127.4 L776.2,126.7 L777.7,126.0 L779.2,125.3 L780.7,124.6 L782.2,123.9 L783.7,123.2 L785.2,122.5 L786.7,121.8 L788.2,121.1 L789.7,120.4 L790.3,120.1" stroke="#1e3cf4" stroke-width="2.0" stroke-dasharray="7 3"/>
<path d="M132.7,334.3 L134.2,335.1 L135.7,335.9 L137.2,336.6 L138.7,337.4 L140.2,338.1 L141.7,338.9 L143.2,339.6 L144.7,340.4 L146.2,341.1 L147.7,341.8 L149.2,342.5 L150.7,343.2 L152.2,343.9 L153.7,344.6 L155.2,345.3 L156.7,345.9 L158.2,346.6 L159.7,347.2 L161.2,347.8 L162.7,348.5 L164.2,349.1 L165.7,349.7 L167.2,350.2 L168.7,350.8 L170.2,351.3 L171.7,351.9 L173.2,352.4 L174.7,352.9 L176.2,353.4 L177.7,353.9 L179.2,354.3 L180.7,354.8 L182.2,355.2 L183.7,355.6 L185.2,356.0 L186.7,356.4 L188.2,356.7 L189.7,357.1 L191.2,357.4 L192.7,357.7 L194.2,358.0 L195.7,358.2 L197.2,358.5 L198.7,358.7 L200.2,358.9 L201.7,359.1 L203.2,359.3 L204.7,359.4 L206.2,359.6 L207.7,359.7 L209.2,359.8 L210.7,359.9 L212.2,360.0 L213.7,360.1 L215.2,360.1 L216.7,360.2 L218.2,360.2 L219.7,360.2 L221.2,360.2 L222.7,360.2 L224.2,360.2 L225.7,360.2 L227.2,360.1 L228.7,360.1 L230.2,360.0 L231.7,359.9 L233.2,359.9 L234.7,359.8 L236.2,359.7 L237.7,359.6 L239.2,359.4 L240.7,359.3 L242.2,359.2 L243.7,359.1 L245.2,358.9 L246.7,358.8 L248.2,358.6 L249.7,358.4 L251.2,358.3 L252.7,358.1 L254.2,357.9 L255.7,357.7 L257.2,357.5 L258.7,357.3 L260.2,357.1 L261.7,356.9 L263.2,356.6 L264.7,356.4 L266.2,356.2 L267.7,355.9 L269.2,355.7 L270.7,355.4 L272.2,355.1 L273.7,354.9 L275.2,354.6 L276.7,354.3 L278.2,354.0 L279.7,353.7 L281.2,353.4 L282.7,353.1 L284.2,352.8 L285.7,352.5 L287.2,352.2 L288.7,351.8 L290.2,351.5 L291.7,351.2 L293.2,350.8 L294.7,350.5 L296.2,350.1 L297.7,349.7 L299.2,349.4 L300.7,349.0 L302.2,348.6 L303.7,348.2 L305.2,347.8 L306.7,347.4 L308.2,347.0 L309.7,346.6 L311.2,346.2 L312.7,345.8 L314.2,345.4 L315.7,345.0 L317.2,344.5 L318.7,344.1 L320.2,343.7 L321.7,343.2 L323.2,342.8 L324.7,342.3 L326.2,341.9 L327.7,341.4 L329.2,340.9 L330.7,340.5 L332.2,340.0 L333.7,339.5 L335.2,339.0 L336.7,338.5 L338.2,338.0 L339.7,337.5 L341.2,337.0 L342.7,336.5 L344.2,336.0 L345.7,335.5 L347.2,335.0 L348.7,334.5 L350.2,333.9 L351.7,333.4 L353.2,332.9 L354.7,332.3 L356.2,331.8 L357.7,331.2 L359.2,330.7 L360.7,330.1 L362.2,329.6 L363.7,329.0 L365.2,328.4 L366.7,327.9 L368.2,327.3 L369.7,326.7 L371.2,326.2 L372.7,325.6 L374.2,325.0 L375.7,324.4 L377.2,323.8 L378.7,323.2 L380.2,322.6 L381.7,322.0 L383.2,321.4 L384.7,320.8 L386.2,320.2 L387.7,319.6 L389.2,319.0 L390.7,318.4 L392.2,317.7 L393.7,317.1 L395.2,316.5 L396.7,315.9 L398.2,315.2 L399.7,314.6 L401.2,314.0 L402.7,313.3 L404.2,312.7 L405.7,312.0 L407.2,311.4 L408.7,310.7 L410.2,310.1 L411.7,309.4 L413.2,308.8 L414.7,308.1 L416.2,307.5 L417.7,306.8 L419.2,306.1 L420.7,305.5 L422.2,304.8 L423.7,304.1 L425.2,303.5 L426.7,302.8 L428.2,302.1 L429.7,301.5 L431.2,300.8 L432.7,300.1 L434.2,299.4 L435.7,298.7 L437.2,298.1 L438.7,297.4 L440.2,296.7 L441.7,296.0 L443.2,295.3 L444.7,294.6 L446.2,293.9 L447.7,293.2 L449.2,292.5 L450.7,291.8 L452.2,291.1 L453.7,290.5 L455.2,289.8 L456.7,289.1 L458.2,288.4 L459.7,287.7 L461.2,287.0 L462.7,286.3 L464.2,285.5 L465.7,284.8 L467.2,284.1 L468.7,283.4 L470.2,282.7 L471.7,282.0 L473.2,281.3 L474.7,280.6 L476.2,279.9 L477.7,279.2 L479.2,278.5 L480.7,277.8 L482.2,277.1 L483.7,276.4 L485.2,275.7 L486.7,275.0 L488.2,274.2 L489.7,273.5 L491.2,272.8 L492.7,272.1 L494.2,271.4 L495.7,270.7 L497.2,270.0 L498.7,269.3 L500.2,268.6 L501.7,267.9 L503.2,267.2 L504.7,266.5 L506.2,265.8 L507.7,265.1 L509.2,264.4 L510.7,263.6 L512.2,262.9 L513.7,262.2 L515.2,261.5 L516.7,260.8 L518.2,260.1 L519.7,259.4 L521.2,258.7 L522.7,258.0 L524.2,257.3 L525.7,256.6 L527.2,255.9 L528.7,255.2 L530.2,254.5 L531.7,253.8 L533.2,253.1 L534.7,252.4 L536.2,251.7 L537.7,251.0 L539.2,250.3 L540.7,249.6 L542.2,248.9 L543.7,248.2 L545.2,247.5 L546.7,246.9 L548.2,246.2 L549.7,245.5 L551.2,244.8 L552.7,244.1 L554.2,243.4 L555.7,242.7 L557.2,242.0 L558.7,241.3 L560.2,240.6 L561.7,239.9 L563.2,239.2 L564.7,238.5 L566.2,237.8 L567.7,237.1 L569.2,236.5 L570.7,235.8 L572.2,235.1 L573.7,234.4 L575.2,233.7 L576.7,233.0 L578.2,232.3 L579.7,231.6 L581.2,230.9 L582.7,230.3 L584.2,229.6 L585.7,228.9 L587.2,228.2 L588.7,227.5 L590.2,226.8 L591.7,226.1 L593.2,225.5 L594.7,224.8 L596.2,224.1 L597.7,223.4 L599.2,222.7 L600.7,222.0 L602.2,221.3 L603.7,220.7 L605.2,220.0 L606.7,219.3 L608.2,218.6 L609.7,217.9 L611.2,217.3 L612.7,216.6 L614.2,215.9 L615.7,215.2 L617.2,214.5 L618.7,213.9 L620.2,213.2 L621.7,212.5 L623.2,211.8 L624.7,211.1 L626.2,210.5 L627.7,209.8 L629.2,209.1 L630.7,208.4 L632.2,207.8 L633.7,207.1 L635.2,206.4 L636.7,205.7 L638.2,205.1 L639.7,204.4 L641.2,203.7 L642.7,203.0 L644.2,202.4 L645.7,201.7 L647.2,201.0 L648.7,200.3 L650.2,199.7 L651.7,199.0 L653.2,198.3 L654.7,197.6 L656.2,197.0 L657.7,196.3 L659.2,195.6 L660.7,195.0 L662.2,194.3 L663.7,193.6 L665.2,193.0 L666.7,192.3 L668.2,191.6 L669.7,190.9 L671.2,190.3 L672.7,189.6 L674.2,188.9 L675.7,188.3 L677.2,187.6 L678.7,186.9 L680.2,186.3 L681.7,185.6 L683.2,184.9 L684.7,184.3 L686.2,183.6 L687.7,182.9 L689.2,182.3 L690.7,181.6 L692.2,181.0 L693.7,180.3 L695.2,179.6 L696.7,179.0 L698.2,178.3 L699.7,177.6 L701.2,177.0 L702.7,176.3 L704.2,175.7 L705.7,175.0 L707.2,174.3 L708.7,173.7 L710.2,173.0 L711.7,172.4 L713.2,171.7 L714.7,171.0 L716.2,170.4 L717.7,169.7 L719.2,169.1 L720.7,168.4 L722.2,167.7 L723.7,167.1 L725.2,166.4 L726.7,165.8 L728.2,165.1 L729.7,164.5 L731.2,163.8 L732.7,163.1 L734.2,162.5 L735.7,161.8 L737.2,161.2 L738.7,160.5 L740.2,159.9 L741.7,159.2 L743.2,158.6 L744.7,157.9 L746.2,157.3 L747.7,156.6 L749.2,156.0 L750.7,155.3 L752.2,154.6 L753.7,154.0 L755.2,153.3 L756.7,152.7 L758.2,152.0 L759.7,151.4 L761.2,150.7 L762.7,150.1 L764.2,149.4 L765.7,148.8 L767.2,148.1 L768.7,147.5 L770.2,146.8 L771.7,146.2 L773.2,145.6 L774.7,144.9 L776.2,144.3 L777.7,143.6 L779.2,143.0 L780.7,142.3 L782.2,141.7 L783.7,141.0 L785.2,140.4 L786.7,139.7 L788.2,139.1 L789.7,138.4 L790.3,138.2" stroke="#77ff22" stroke-width="2.2" stroke-dasharray="3 3"/>
<path d="M132.7,334.3 L134.2,335.1 L135.7,335.9 L137.2,336.6 L138.7,337.4 L140.2,338.1 L141.7,338.9 L143.2,339.6 L144.7,340.3 L146.2,341.1 L147.7,341.8 L149.2,342.5 L150.7,343.2 L152.2,343.9 L153.7,344.6 L155.2,345.2 L156.7,345.9 L158.2,346.5 L159.7,347.2 L161.2,347.8 L162.7,348.4 L164.2,349.0 L165.7,349.6 L167.2,350.2 L168.7,350.8 L170.2,351.3 L171.7,351.9 L173.2,352.4 L174.7,352.9 L176.2,353.4 L177.7,353.9 L179.2,354.3 L180.7,354.8 L182.2,355.2 L183.7,355.6 L185.2,356.0 L186.7,356.4 L188.2,356.8 L189.7,357.1 L191.2,357.4 L192.7,357.7 L194.2,358.0 L195.7,358.3 L197.2,358.6 L198.7,358.8 L200.2,359.0 L201.7,359.2 L203.2,359.4 L204.7,359.6 L206.2,359.7 L207.7,359.9 L209.2,360.0 L210.7,360.1 L212.2,360.2 L213.7,360.3 L215.2,360.4 L216.7,360.4 L218.2,360.5 L219.7,360.5 L221.2,360.5 L222.7,360.5 L224.2,360.5 L225.7,360.5 L227.2,360.5 L228.7,360.5 L230.2,360.4 L231.7,360.4 L233.2,360.3 L234.7,360.2 L236.2,360.1 L237.7,360.0 L239.2,360.0 L240.7,359.8 L242.2,359.7 L243.7,359.6 L245.2,359.5 L246.7,359.4 L248.2,359.2 L249.7,359.1 L251.2,358.9 L252.7,358.8 L254.2,358.6 L255.7,358.4 L257.2,358.2 L258.7,358.1 L260.2,357.9 L261.7,357.7 L263.2,357.5 L264.7,357.3 L266.2,357.0 L267.7,356.8 L269.2,356.6 L270.7,356.4 L272.2,356.1 L273.7,355.9 L275.2,355.6 L276.7,355.4 L278.2,355.1 L279.7,354.8 L281.2,354.6 L282.7,354.3 L284.2,354.0 L285.7,353.7 L287.2,353.4 L288.7,353.1 L290.2,352.8 L291.7,352.5 L293.2,352.2 L294.7,351.9 L296.2,351.5 L297.7,351.2 L299.2,350.9 L300.7,350.5 L302.2,350.2 L303.7,349.8 L305.2,349.5 L306.7,349.1 L308.2,348.7 L309.7,348.4 L311.2,348.0 L312.7,347.6 L314.2,347.2 L315.7,346.8 L317.2,346.4 L318.7,346.0 L320.2,345.6 L321.7,345.2 L323.2,344.8 L324.7,344.4 L326.2,344.0 L327.7,343.5 L329.2,343.1 L330.7,342.7 L332.2,342.2 L333.7,341.8 L335.2,341.3 L336.7,340.9 L338.2,340.4 L339.7,340.0 L341.2,339.5 L342.7,339.0 L344.2,338.6 L345.7,338.1 L347.2,337.6 L348.7,337.1 L350.2,336.6 L351.7,336.2 L353.2,335.7 L354.7,335.2 L356.2,334.7 L357.7,334.2 L359.2,333.6 L360.7,333.1 L362.2,332.6 L363.7,332.1 L365.2,331.6 L366.7,331.1 L368.2,330.5 L369.7,330.0 L371.2,329.5 L372.7,328.9 L374.2,328.4 L375.7,327.8 L377.2,327.3 L378.7,326.7 L380.2,326.2 L381.7,325.6 L383.2,325.1 L384.7,324.5 L386.2,324.0 L387.7,323.4 L389.2,322.8 L390.7,322.2 L392.2,321.7 L393.7,321.1 L395.2,320.5 L396.7,319.9 L398.2,319.3 L399.7,318.8 L401.2,318.2 L402.7,317.6 L404.2,317.0 L405.7,316.4 L407.2,315.8 L408.7,315.2 L410.2,314.6 L411.7,314.0 L413.2,313.4 L414.7,312.8 L416.2,312.2 L417.7,311.6 L419.2,311.0 L420.7,310.3 L422.2,309.7 L423.7,309.1 L425.2,308.5 L426.7,307.9 L428.2,307.2 L429.7,306.6 L431.2,306.0 L432.7,305.4 L434.2,304.7 L435.7,304.1 L437.2,303.5 L438.7,302.8 L440.2,302.2 L441.7,301.6 L443.2,300.9 L444.7,300.3 L446.2,299.7 L447.7,299.0 L449.2,298.4 L450.7,297.7 L452.2,297.1 L453.7,296.5 L455.2,295.8 L456.7,295.2 L458.2,294.5 L459.7,293.9 L461.2,293.2 L462.7,292.6 L464.2,291.9 L465.7,291.3 L467.2,290.7 L468.7,290.0 L470.2,289.4 L471.7,288.7 L473.2,288.1 L474.7,287.4 L476.2,286.8 L477.7,286.1 L479.2,285.5 L480.7,284.8 L482.2,284.2 L483.7,283.5 L485.2,282.9 L486.7,282.2 L488.2,281.6 L489.7,280.9 L491.2,280.3 L492.7,279.6 L494.2,279.0 L495.7,278.3 L497.2,277.7 L498.7,277.0 L500.2,276.4 L501.7,275.7 L503.2,275.1 L504.7,274.4 L506.2,273.8 L507.7,273.1 L509.2,272.5 L510.7,271.9 L512.2,271.2 L513.7,270.6 L515.2,269.9 L516.7,269.3 L518.2,268.6 L519.7,268.0 L521.2,267.4 L522.7,266.7 L524.2,266.1 L525.7,265.4 L527.2,264.8 L528.7,264.2 L530.2,263.5 L531.7,262.9 L533.2,262.3 L534.7,261.6 L536.2,261.0 L537.7,260.4 L539.2,259.7 L540.7,259.1 L542.2,258.4 L543.7,257.8 L545.2,257.2 L546.7,256.6 L548.2,255.9 L549.7,255.3 L551.2,254.7 L552.7,254.0 L554.2,253.4 L555.7,252.8 L557.2,252.1 L558.7,251.5 L560.2,250.9 L561.7,250.3 L563.2,249.6 L564.7,249.0 L566.2,248.4 L567.7,247.7 L569.2,247.1 L570.7,246.5 L572.2,245.9 L573.7,245.2 L575.2,244.6 L576.7,244.0 L578.2,243.4 L579.7,242.8 L581.2,242.1 L582.7,241.5 L584.2,240.9 L585.7,240.3 L587.2,239.7 L588.7,239.0 L590.2,238.4 L591.7,237.8 L593.2,237.2 L594.7,236.6 L596.2,235.9 L597.7,235.3 L599.2,234.7 L600.7,234.1 L602.2,233.5 L603.7,232.9 L605.2,232.2 L606.7,231.6 L608.2,231.0 L609.7,230.4 L611.2,229.8 L612.7,229.2 L614.2,228.6 L615.7,227.9 L617.2,227.3 L618.7,226.7 L620.2,226.1 L621.7,225.5 L623.2,224.9 L624.7,224.3 L626.2,223.7 L627.7,223.1 L629.2,222.5 L630.7,221.8 L632.2,221.2 L633.7,220.6 L635.2,220.0 L636.7,219.4 L638.2,218.8 L639.7,218.2 L641.2,217.6 L642.7,217.0 L644.2,216.4 L645.7,215.8 L647.2,215.2 L648.7,214.6 L650.2,214.0 L651.7,213.4 L653.2,212.8 L654.7,212.2 L656.2,211.6 L657.7,211.0 L659.2,210.4 L660.7,209.8 L662.2,209.2 L663.7,208.6 L665.2,208.0 L666.7,207.4 L668.2,206.8 L669.7,206.2 L671.2,205.6 L672.7,205.0 L674.2,204.4 L675.7,203.8 L677.2,203.2 L678.7,202.6 L680.2,202.0 L681.7,201.4 L683.2,200.8 L684.7,200.2 L686.2,199.6 L687.7,199.0 L689.2,198.4 L690.7,197.8 L692.2,197.2 L693.7,196.6 L695.2,196.0 L696.7,195.4 L698.2,194.9 L699.7,194.3 L701.2,193.7 L702.7,193.1 L704.2,192.5 L705.7,191.9 L707.2,191.3 L708.7,190.7 L710.2,190.1 L711.7,189.5 L713.2,188.9 L714.7,188.4 L716.2,187.8 L717.7,187.2 L719.2,186.6 L720.7,186.0 L722.2,185.4 L723.7,184.8 L725.2,184.2 L726.7,183.7 L728.2,183.1 L729.7,182.5 L731.2,181.9 L732.7,181.3 L734.2,180.7 L735.7,180.1 L737.2,179.6 L738.7,179.0 L740.2,178.4 L741.7,177.8 L743.2,177.2 L744.7,176.6 L746.2,176.1 L747.7,175.5 L749.2,174.9 L750.7,174.3 L752.2,173.7 L753.7,173.1 L755.2,172.6 L756.7,172.0 L758.2,171.4 L759.7,170.8 L761.2,170.2 L762.7,169.7 L764.2,169.1 L765.7,168.5 L767.2,167.9 L768.7,167.3 L770.2,166.8 L771.7,166.2 L773.2,165.6 L774.7,165.0 L776.2,164.5 L777.7,163.9 L779.2,163.3 L780.7,162.7 L782.2,162.2 L783.7,161.6 L785.2,161.0 L786.7,160.4 L788.2,159.9 L789.7,159.3 L790.3,159.0" stroke="#80a008" stroke-width="2.4"/>
<path d="M132.7,334.3 L134.2,335.1 L135.7,335.9 L137.2,336.6 L138.7,337.4 L140.2,338.2 L141.7,338.9 L143.2,339.7 L144.7,340.4 L146.2,341.2 L147.7,341.9 L149.2,342.6 L150.7,343.3 L152.2,344.0 L153.7,344.7 L155.2,345.4 L156.7,346.1 L158.2,346.7 L159.7,347.4 L161.2,348.0 L162.7,348.7 L164.2,349.3 L165.7,349.9 L167.2,350.5 L168.7,351.1 L170.2,351.6 L171.7,352.2 L173.2,352.7 L174.7,353.2 L176.2,353.8 L177.7,354.2 L179.2,354.7 L180.7,355.2 L182.2,355.6 L183.7,356.1 L185.2,356.5 L186.7,356.9 L188.2,357.2 L189.7,357.6 L191.2,357.9 L192.7,358.3 L194.2,358.6 L195.7,358.8 L197.2,359.1 L198.7,359.4 L200.2,359.6 L201.7,359.8 L203.2,360.0 L204.7,360.2 L206.2,360.4 L207.7,360.5 L209.2,360.7 L210.7,360.8 L212.2,360.9 L213.7,361.0 L215.2,361.1 L216.7,361.2 L218.2,361.2 L219.7,361.3 L221.2,361.3 L222.7,361.3 L224.2,361.4 L225.7,361.4 L227.2,361.4 L228.7,361.3 L230.2,361.3 L231.7,361.3 L233.2,361.2 L234.7,361.2 L236.2,361.1 L237.7,361.0 L239.2,361.0 L240.7,360.9 L242.2,360.8 L243.7,360.7 L245.2,360.6 L246.7,360.4 L248.2,360.3 L249.7,360.2 L251.2,360.1 L252.7,359.9 L254.2,359.8 L255.7,359.6 L257.2,359.4 L258.7,359.3 L260.2,359.1 L261.7,358.9 L263.2,358.7 L264.7,358.6 L266.2,358.4 L267.7,358.2 L269.2,357.9 L270.7,357.7 L272.2,357.5 L273.7,357.3 L275.2,357.1 L276.7,356.8 L278.2,356.6 L279.7,356.3 L281.2,356.1 L282.7,355.8 L284.2,355.5 L285.7,355.3 L287.2,355.0 L288.7,354.7 L290.2,354.4 L291.7,354.1 L293.2,353.8 L294.7,353.5 L296.2,353.2 L297.7,352.9 L299.2,352.6 L300.7,352.3 L302.2,351.9 L303.7,351.6 L305.2,351.3 L306.7,350.9 L308.2,350.6 L309.7,350.2 L311.2,349.9 L312.7,349.5 L314.2,349.1 L315.7,348.8 L317.2,348.4 L318.7,348.0 L320.2,347.6 L321.7,347.2 L323.2,346.8 L324.7,346.4 L326.2,346.0 L327.7,345.6 L329.2,345.2 L330.7,344.8 L332.2,344.4 L333.7,344.0 L335.2,343.5 L336.7,343.1 L338.2,342.7 L339.7,342.2 L341.2,341.8 L342.7,341.3 L344.2,340.9 L345.7,340.4 L347.2,340.0 L348.7,339.5 L350.2,339.0 L351.7,338.6 L353.2,338.1 L354.7,337.6 L356.2,337.1 L357.7,336.7 L359.2,336.2 L360.7,335.7 L362.2,335.2 L363.7,334.7 L365.2,334.2 L366.7,333.7 L368.2,333.2 L369.7,332.7 L371.2,332.2 L372.7,331.6 L374.2,331.1 L375.7,330.6 L377.2,330.1 L378.7,329.6 L380.2,329.0 L381.7,328.5 L383.2,328.0 L384.7,327.4 L386.2,326.9 L387.7,326.3 L389.2,325.8 L390.7,325.2 L392.2,324.7 L393.7,324.1 L395.2,323.6 L396.7,323.0 L398.2,322.5 L399.7,321.9 L401.2,321.3 L402.7,320.8 L404.2,320.2 L405.7,319.6 L407.2,319.0 L408.7,318.5 L410.2,317.9 L411.7,317.3 L413.2,316.7 L414.7,316.1 L416.2,315.6 L417.7,315.0 L419.2,314.4 L420.7,313.8 L422.2,313.2 L423.7,312.6 L425.2,312.0 L426.7,311.4 L428.2,310.8 L429.7,310.2 L431.2,309.6 L432.7,309.0 L434.2,308.4 L435.7,307.8 L437.2,307.2 L438.7,306.6 L440.2,306.0 L441.7,305.4 L443.2,304.7 L444.7,304.1 L446.2,303.5 L447.7,302.9 L449.2,302.3 L450.7,301.7 L452.2,301.1 L453.7,300.4 L455.2,299.8 L456.7,299.2 L458.2,298.6 L459.7,298.0 L461.2,297.3 L462.7,296.7 L464.2,296.1 L465.7,295.5 L467.2,294.9 L468.7,294.2 L470.2,293.6 L471.7,293.0 L473.2,292.4 L474.7,291.7 L476.2,291.1 L477.7,290.5 L479.2,289.9 L480.7,289.2 L482.2,288.6 L483.7,288.0 L485.2,287.4 L486.7,286.7 L488.2,286.1 L489.7,285.5 L491.2,284.9 L492.7,284.3 L494.2,283.6 L495.7,283.0 L497.2,282.4 L498.7,281.8 L500.2,281.1 L501.7,280.5 L503.2,279.9 L504.7,279.3 L506.2,278.7 L507.7,278.0 L509.2,277.4 L510.7,276.8 L512.2,276.2 L513.7,275.6 L515.2,275.0 L516.7,274.4 L518.2,273.7 L519.7,273.1 L521.2,272.5 L522.7,271.9 L524.2,271.3 L525.7,270.7 L527.2,270.1 L528.7,269.5 L530.2,268.8 L531.7,268.2 L533.2,267.6 L534.7,267.0 L536.2,266.4 L537.7,265.8 L539.2,265.2 L540.7,264.6 L542.2,264.0 L543.7,263.4 L545.2,262.8 L546.7,262.2 L548.2,261.6 L549.7,261.0 L551.2,260.4 L552.7,259.8 L554.2,259.2 L555.7,258.6 L557.2,258.0 L558.7,257.4 L560.2,256.8 L561.7,256.2 L563.2,255.6 L564.7,255.0 L566.2,254.4 L567.7,253.8 L569.2,253.2 L570.7,252.6 L572.2,252.0 L573.7,251.4 L575.2,250.8 L576.7,250.2 L578.2,249.6 L579.7,249.0 L581.2,248.4 L582.7,247.8 L584.2,247.2 L585.7,246.6 L587.2,246.0 L588.7,245.5 L590.2,244.9 L591.7,244.3 L593.2,243.7 L594.7,243.1 L596.2,242.5 L597.7,241.9 L599.2,241.3 L600.7,240.7 L602.2,240.2 L603.7,239.6 L605.2,239.0 L606.7,238.4 L608.2,237.8 L609.7,237.2 L611.2,236.6 L612.7,236.1 L614.2,235.5 L615.7,234.9 L617.2,234.3 L618.7,233.7 L620.2,233.2 L621.7,232.6 L623.2,232.0 L624.7,231.4 L626.2,230.8 L627.7,230.3 L629.2,229.7 L630.7,229.1 L632.2,228.5 L633.7,227.9 L635.2,227.4 L636.7,226.8 L638.2,226.2 L639.7,225.6 L641.2,225.1 L642.7,224.5 L644.2,223.9 L645.7,223.3 L647.2,222.8 L648.7,222.2 L650.2,221.6 L651.7,221.1 L653.2,220.5 L654.7,219.9 L656.2,219.3 L657.7,218.8 L659.2,218.2 L660.7,217.6 L662.2,217.1 L663.7,216.5 L665.2,215.9 L666.7,215.4 L668.2,214.8 L669.7,214.2 L671.2,213.7 L672.7,213.1 L674.2,212.5 L675.7,212.0 L677.2,211.4 L678.7,210.8 L680.2,210.3 L681.7,209.7 L683.2,209.1 L684.7,208.6 L686.2,208.0 L687.7,207.4 L689.2,206.9 L690.7,206.3 L692.2,205.8 L693.7,205.2 L695.2,204.6 L696.7,204.1 L698.2,203.5 L699.7,203.0 L701.2,202.4 L702.7,201.8 L704.2,201.3 L705.7,200.7 L707.2,200.2 L708.7,199.6 L710.2,199.1 L711.7,198.5 L713.2,197.9 L714.7,197.4 L716.2,196.8 L717.7,196.3 L719.2,195.7 L720.7,195.2 L722.2,194.6 L723.7,194.1 L725.2,193.5 L726.7,192.9 L728.2,192.4 L729.7,191.8 L731.2,191.3 L732.7,190.7 L734.2,190.2 L735.7,189.6 L737.2,189.1 L738.7,188.5 L740.2,188.0 L741.7,187.4 L743.2,186.9 L744.7,186.3 L746.2,185.8 L747.7,185.2 L749.2,184.7 L750.7,184.1 L752.2,183.6 L753.7,183.0 L755.2,182.5 L756.7,182.0 L758.2,181.4 L759.7,180.9 L761.2,180.3 L762.7,179.8 L764.2,179.2 L765.7,178.7 L767.2,178.1 L768.7,177.6 L770.2,177.0 L771.7,176.5 L773.2,176.0 L774.7,175.4 L776.2,174.9 L777.7,174.3 L779.2,173.8 L780.7,173.2 L782.2,172.7 L783.7,172.2 L785.2,171.6 L786.7,171.1 L788.2,170.5 L789.7,170.0 L790.3,169.8" stroke="#ff0e0a" stroke-width="2.4"/>
</g>
<line x1="136" y1="91.6" x2="178" y2="91.6" stroke="#1cbe84" stroke-width="2.2" stroke-dasharray="3 3"/>
<text x="187" y="98.0" class="lg">P = 1000 Torr</text>
<line x1="136" y1="111.8" x2="178" y2="111.8" stroke="#5232f8" stroke-width="2.0" stroke-dasharray="12 3"/>
<text x="187" y="118.2" class="lg">P =   700 Torr</text>
<line x1="136" y1="131.9" x2="178" y2="131.9" stroke="#62f8d6" stroke-width="2.0" stroke-dasharray="12 3 3 3"/>
<text x="187" y="138.3" class="lg">P =   500 Torr</text>
<line x1="136" y1="152.0" x2="178" y2="152.0" stroke="#000000" stroke-width="2.0" stroke-dasharray="7 3 3 3 3 3"/>
<text x="187" y="158.4" class="lg">P =   300 Torr</text>
<line x1="136" y1="172.2" x2="178" y2="172.2" stroke="#c02cf8" stroke-width="2.0" stroke-dasharray="7 3 3 3"/>
<text x="187" y="178.6" class="lg">P =   100 Torr</text>
<line x1="136" y1="192.3" x2="178" y2="192.3" stroke="#1e3cf4" stroke-width="2.0" stroke-dasharray="7 3"/>
<text x="187" y="198.8" class="lg">P =     50 Torr</text>
<line x1="136" y1="212.5" x2="178" y2="212.5" stroke="#77ff22" stroke-width="2.2" stroke-dasharray="3 3"/>
<text x="187" y="218.9" class="lg">P =     30 Torr</text>
<line x1="136" y1="232.6" x2="178" y2="232.6" stroke="#80a008" stroke-width="2.4"/>
<text x="187" y="239.0" class="lg">P =     10 Torr</text>
<line x1="136" y1="252.8" x2="178" y2="252.8" stroke="#ff0e0a" stroke-width="2.4"/>
<text x="187" y="259.2" class="lg">P =       0 Torr (LPL)</text>
<rect x="114.4" y="31.4" width="694.2" height="382.1" fill="none" stroke="#000" stroke-width="2.2"/>
<g stroke="#000"><line x1="114.40" y1="413.5" x2="114.40" y2="408.2" stroke-width="1.3"/><line x1="114.40" y1="31.4" x2="114.40" y2="36.699999999999996" stroke-width="1.3"/><line x1="132.67" y1="413.5" x2="132.67" y2="403.5" stroke-width="2.0"/><line x1="132.67" y1="31.4" x2="132.67" y2="41.4" stroke-width="2.0"/><line x1="150.94" y1="413.5" x2="150.94" y2="408.2" stroke-width="1.3"/><line x1="150.94" y1="31.4" x2="150.94" y2="36.699999999999996" stroke-width="1.3"/><line x1="169.21" y1="413.5" x2="169.21" y2="408.2" stroke-width="1.3"/><line x1="169.21" y1="31.4" x2="169.21" y2="36.699999999999996" stroke-width="1.3"/><line x1="187.47" y1="413.5" x2="187.47" y2="408.2" stroke-width="1.3"/><line x1="187.47" y1="31.4" x2="187.47" y2="36.699999999999996" stroke-width="1.3"/><line x1="205.74" y1="413.5" x2="205.74" y2="403.5" stroke-width="2.0"/><line x1="205.74" y1="31.4" x2="205.74" y2="41.4" stroke-width="2.0"/><line x1="224.01" y1="413.5" x2="224.01" y2="408.2" stroke-width="1.3"/><line x1="224.01" y1="31.4" x2="224.01" y2="36.699999999999996" stroke-width="1.3"/><line x1="242.28" y1="413.5" x2="242.28" y2="408.2" stroke-width="1.3"/><line x1="242.28" y1="31.4" x2="242.28" y2="36.699999999999996" stroke-width="1.3"/><line x1="260.55" y1="413.5" x2="260.55" y2="408.2" stroke-width="1.3"/><line x1="260.55" y1="31.4" x2="260.55" y2="36.699999999999996" stroke-width="1.3"/><line x1="278.82" y1="413.5" x2="278.82" y2="403.5" stroke-width="2.0"/><line x1="278.82" y1="31.4" x2="278.82" y2="41.4" stroke-width="2.0"/><line x1="297.08" y1="413.5" x2="297.08" y2="408.2" stroke-width="1.3"/><line x1="297.08" y1="31.4" x2="297.08" y2="36.699999999999996" stroke-width="1.3"/><line x1="315.35" y1="413.5" x2="315.35" y2="408.2" stroke-width="1.3"/><line x1="315.35" y1="31.4" x2="315.35" y2="36.699999999999996" stroke-width="1.3"/><line x1="333.62" y1="413.5" x2="333.62" y2="408.2" stroke-width="1.3"/><line x1="333.62" y1="31.4" x2="333.62" y2="36.699999999999996" stroke-width="1.3"/><line x1="351.89" y1="413.5" x2="351.89" y2="403.5" stroke-width="2.0"/><line x1="351.89" y1="31.4" x2="351.89" y2="41.4" stroke-width="2.0"/><line x1="370.16" y1="413.5" x2="370.16" y2="408.2" stroke-width="1.3"/><line x1="370.16" y1="31.4" x2="370.16" y2="36.699999999999996" stroke-width="1.3"/><line x1="388.43" y1="413.5" x2="388.43" y2="408.2" stroke-width="1.3"/><line x1="388.43" y1="31.4" x2="388.43" y2="36.699999999999996" stroke-width="1.3"/><line x1="406.69" y1="413.5" x2="406.69" y2="408.2" stroke-width="1.3"/><line x1="406.69" y1="31.4" x2="406.69" y2="36.699999999999996" stroke-width="1.3"/><line x1="424.96" y1="413.5" x2="424.96" y2="403.5" stroke-width="2.0"/><line x1="424.96" y1="31.4" x2="424.96" y2="41.4" stroke-width="2.0"/><line x1="443.23" y1="413.5" x2="443.23" y2="408.2" stroke-width="1.3"/><line x1="443.23" y1="31.4" x2="443.23" y2="36.699999999999996" stroke-width="1.3"/><line x1="461.50" y1="413.5" x2="461.50" y2="408.2" stroke-width="1.3"/><line x1="461.50" y1="31.4" x2="461.50" y2="36.699999999999996" stroke-width="1.3"/><line x1="479.77" y1="413.5" x2="479.77" y2="408.2" stroke-width="1.3"/><line x1="479.77" y1="31.4" x2="479.77" y2="36.699999999999996" stroke-width="1.3"/><line x1="498.04" y1="413.5" x2="498.04" y2="403.5" stroke-width="2.0"/><line x1="498.04" y1="31.4" x2="498.04" y2="41.4" stroke-width="2.0"/><line x1="516.31" y1="413.5" x2="516.31" y2="408.2" stroke-width="1.3"/><line x1="516.31" y1="31.4" x2="516.31" y2="36.699999999999996" stroke-width="1.3"/><line x1="534.57" y1="413.5" x2="534.57" y2="408.2" stroke-width="1.3"/><line x1="534.57" y1="31.4" x2="534.57" y2="36.699999999999996" stroke-width="1.3"/><line x1="552.84" y1="413.5" x2="552.84" y2="408.2" stroke-width="1.3"/><line x1="552.84" y1="31.4" x2="552.84" y2="36.699999999999996" stroke-width="1.3"/><line x1="571.11" y1="413.5" x2="571.11" y2="403.5" stroke-width="2.0"/><line x1="571.11" y1="31.4" x2="571.11" y2="41.4" stroke-width="2.0"/><line x1="589.38" y1="413.5" x2="589.38" y2="408.2" stroke-width="1.3"/><line x1="589.38" y1="31.4" x2="589.38" y2="36.699999999999996" stroke-width="1.3"/><line x1="607.65" y1="413.5" x2="607.65" y2="408.2" stroke-width="1.3"/><line x1="607.65" y1="31.4" x2="607.65" y2="36.699999999999996" stroke-width="1.3"/><line x1="625.92" y1="413.5" x2="625.92" y2="408.2" stroke-width="1.3"/><line x1="625.92" y1="31.4" x2="625.92" y2="36.699999999999996" stroke-width="1.3"/><line x1="644.18" y1="413.5" x2="644.18" y2="403.5" stroke-width="2.0"/><line x1="644.18" y1="31.4" x2="644.18" y2="41.4" stroke-width="2.0"/><line x1="662.45" y1="413.5" x2="662.45" y2="408.2" stroke-width="1.3"/><line x1="662.45" y1="31.4" x2="662.45" y2="36.699999999999996" stroke-width="1.3"/><line x1="680.72" y1="413.5" x2="680.72" y2="408.2" stroke-width="1.3"/><line x1="680.72" y1="31.4" x2="680.72" y2="36.699999999999996" stroke-width="1.3"/><line x1="698.99" y1="413.5" x2="698.99" y2="408.2" stroke-width="1.3"/><line x1="698.99" y1="31.4" x2="698.99" y2="36.699999999999996" stroke-width="1.3"/><line x1="717.26" y1="413.5" x2="717.26" y2="403.5" stroke-width="2.0"/><line x1="717.26" y1="31.4" x2="717.26" y2="41.4" stroke-width="2.0"/><line x1="735.53" y1="413.5" x2="735.53" y2="408.2" stroke-width="1.3"/><line x1="735.53" y1="31.4" x2="735.53" y2="36.699999999999996" stroke-width="1.3"/><line x1="753.79" y1="413.5" x2="753.79" y2="408.2" stroke-width="1.3"/><line x1="753.79" y1="31.4" x2="753.79" y2="36.699999999999996" stroke-width="1.3"/><line x1="772.06" y1="413.5" x2="772.06" y2="408.2" stroke-width="1.3"/><line x1="772.06" y1="31.4" x2="772.06" y2="36.699999999999996" stroke-width="1.3"/><line x1="790.33" y1="413.5" x2="790.33" y2="403.5" stroke-width="2.0"/><line x1="790.33" y1="31.4" x2="790.33" y2="41.4" stroke-width="2.0"/><line x1="114.4" y1="413.50" x2="119.7" y2="413.50" stroke-width="1.3"/><line x1="808.6" y1="413.50" x2="803.3000000000001" y2="413.50" stroke-width="1.3"/><line x1="114.4" y1="392.27" x2="119.7" y2="392.27" stroke-width="1.3"/><line x1="808.6" y1="392.27" x2="803.3000000000001" y2="392.27" stroke-width="1.3"/><line x1="114.4" y1="371.04" x2="124.4" y2="371.04" stroke-width="2.0"/><line x1="808.6" y1="371.04" x2="798.6" y2="371.04" stroke-width="2.0"/><line x1="114.4" y1="349.82" x2="119.7" y2="349.82" stroke-width="1.3"/><line x1="808.6" y1="349.82" x2="803.3000000000001" y2="349.82" stroke-width="1.3"/><line x1="114.4" y1="328.59" x2="119.7" y2="328.59" stroke-width="1.3"/><line x1="808.6" y1="328.59" x2="803.3000000000001" y2="328.59" stroke-width="1.3"/><line x1="114.4" y1="307.36" x2="119.7" y2="307.36" stroke-width="1.3"/><line x1="808.6" y1="307.36" x2="803.3000000000001" y2="307.36" stroke-width="1.3"/><line x1="114.4" y1="286.13" x2="124.4" y2="286.13" stroke-width="2.0"/><line x1="808.6" y1="286.13" x2="798.6" y2="286.13" stroke-width="2.0"/><line x1="114.4" y1="264.91" x2="119.7" y2="264.91" stroke-width="1.3"/><line x1="808.6" y1="264.91" x2="803.3000000000001" y2="264.91" stroke-width="1.3"/><line x1="114.4" y1="243.68" x2="119.7" y2="243.68" stroke-width="1.3"/><line x1="808.6" y1="243.68" x2="803.3000000000001" y2="243.68" stroke-width="1.3"/><line x1="114.4" y1="222.45" x2="119.7" y2="222.45" stroke-width="1.3"/><line x1="808.6" y1="222.45" x2="803.3000000000001" y2="222.45" stroke-width="1.3"/><line x1="114.4" y1="201.22" x2="124.4" y2="201.22" stroke-width="2.0"/><line x1="808.6" y1="201.22" x2="798.6" y2="201.22" stroke-width="2.0"/><line x1="114.4" y1="179.99" x2="119.7" y2="179.99" stroke-width="1.3"/><line x1="808.6" y1="179.99" x2="803.3000000000001" y2="179.99" stroke-width="1.3"/><line x1="114.4" y1="158.77" x2="119.7" y2="158.77" stroke-width="1.3"/><line x1="808.6" y1="158.77" x2="803.3000000000001" y2="158.77" stroke-width="1.3"/><line x1="114.4" y1="137.54" x2="119.7" y2="137.54" stroke-width="1.3"/><line x1="808.6" y1="137.54" x2="803.3000000000001" y2="137.54" stroke-width="1.3"/><line x1="114.4" y1="116.31" x2="124.4" y2="116.31" stroke-width="2.0"/><line x1="808.6" y1="116.31" x2="798.6" y2="116.31" stroke-width="2.0"/><line x1="114.4" y1="95.08" x2="119.7" y2="95.08" stroke-width="1.3"/><line x1="808.6" y1="95.08" x2="803.3000000000001" y2="95.08" stroke-width="1.3"/><line x1="114.4" y1="73.86" x2="119.7" y2="73.86" stroke-width="1.3"/><line x1="808.6" y1="73.86" x2="803.3000000000001" y2="73.86" stroke-width="1.3"/><line x1="114.4" y1="52.63" x2="119.7" y2="52.63" stroke-width="1.3"/><line x1="808.6" y1="52.63" x2="803.3000000000001" y2="52.63" stroke-width="1.3"/><line x1="114.4" y1="31.40" x2="124.4" y2="31.40" stroke-width="2.0"/><line x1="808.6" y1="31.40" x2="798.6" y2="31.40" stroke-width="2.0"/></g>
<text x="133.02" y="436.80" class="tl" text-anchor="middle">2</text>
<text x="206.64" y="436.80" class="tl" text-anchor="middle">4</text>
<text x="279.07" y="436.80" class="tl" text-anchor="middle">6</text>
<text x="351.89" y="436.80" class="tl" text-anchor="middle">8</text>
<text x="425.41" y="436.80" class="tl" text-anchor="middle">10</text>
<text x="498.89" y="436.80" class="tl" text-anchor="middle">12</text>
<text x="571.11" y="436.80" class="tl" text-anchor="middle">14</text>
<text x="644.18" y="436.80" class="tl" text-anchor="middle">16</text>
<text x="717.26" y="436.80" class="tl" text-anchor="middle">18</text>
<text x="789.93" y="436.80" class="tl" text-anchor="middle">20</text>
<text x="132.22" y="24.30" class="tl" text-anchor="middle">500</text>
<text x="206.94" y="24.30" class="tl" text-anchor="middle">250</text>
<text x="284.42" y="24.30" class="tl" text-anchor="middle">166.7</text>
<text x="422.81" y="24.30" class="tl" text-anchor="middle">100</text>
<text x="643.73" y="24.30" class="tl" text-anchor="middle">62.5</text>
<text x="792.23" y="24.30" class="tl" text-anchor="middle">50</text>
<text x="170.46" y="54.50" class="tl" text-anchor="middle">333.3</text>
<text x="242.98" y="54.50" class="tl" text-anchor="middle">200</text>
<text x="104.70" y="39.70" class="yl" text-anchor="end">10<tspan class="sup" dy="-7.6">-11</tspan></text>
<text x="106.30" y="124.61" class="yl" text-anchor="end">8<tspan class="tm">×</tspan>10<tspan class="sup" dy="-7.6">-12</tspan></text>
<text x="106.30" y="209.52" class="yl" text-anchor="end">6<tspan class="tm">×</tspan>10<tspan class="sup" dy="-7.6">-12</tspan></text>
<text x="106.30" y="294.43" class="yl" text-anchor="end">4<tspan class="tm">×</tspan>10<tspan class="sup" dy="-7.6">-12</tspan></text>
<text x="106.30" y="379.34" class="yl" text-anchor="end">2<tspan class="tm">×</tspan>10<tspan class="sup" dy="-7.6">-12</tspan></text>
<text x="462.5" y="474" class="ax" text-anchor="middle">1000/T (1/K)</text>
<text x="524.5" y="23.3" class="ax" text-anchor="middle">T (K)</text>
<text transform="translate(27.6,200.5) rotate(-90)" class="ax" text-anchor="middle">k(T,p) / cm<tspan class="sup2" dy="-8.3">3</tspan><tspan dy="8.3"> s</tspan><tspan class="sup2" dy="-8.3">-1</tspan></text>
</svg>
</body></html>
